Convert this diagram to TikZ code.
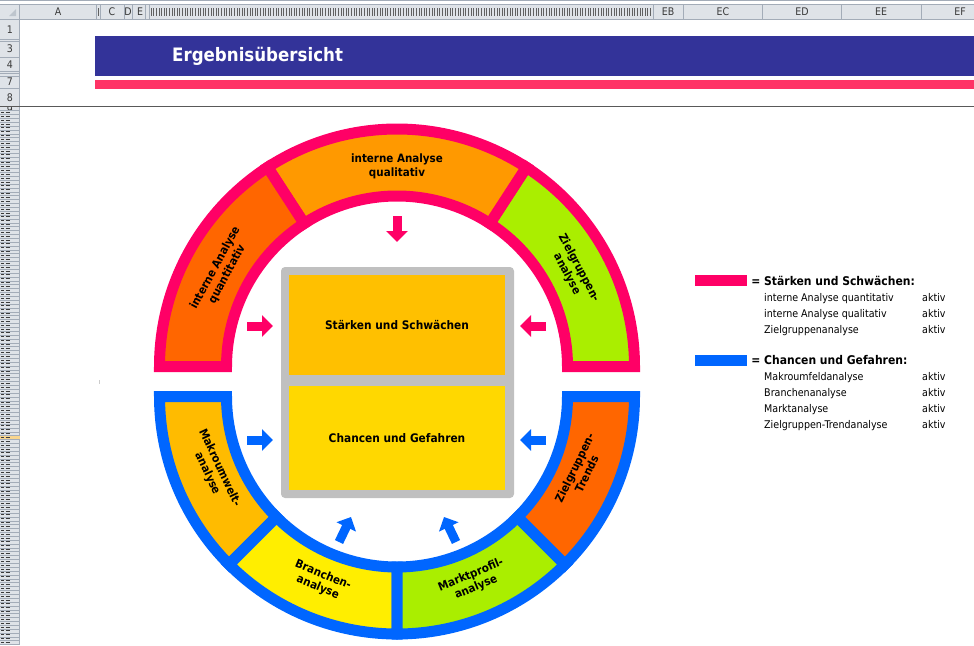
\documentclass[tikz,border=0pt]{standalone}
\usepackage{fontspec}
\setmainfont{DejaVu Sans}[FakeStretch=0.9]
\usetikzlibrary{positioning,arrows.meta}

\definecolor{hdrfill}{HTML}{DFE3E8}
\definecolor{hdrline}{HTML}{A3ACB8}
\definecolor{hdrtext}{HTML}{3A3A3A}
\definecolor{titleblue}{HTML}{333399}
\definecolor{titlepink}{HTML}{FF3366}
\definecolor{sspink}{HTML}{FF0066}
\definecolor{cgblue}{HTML}{0066FF}
\definecolor{segDark}{HTML}{FF6600}
\definecolor{segOrange}{HTML}{FF9900}
\definecolor{segLime}{HTML}{AAEE00}
\definecolor{segAmber}{HTML}{FFBB00}
\definecolor{segLemon}{HTML}{FFEE00}
\definecolor{boxgray}{HTML}{C0C0C0}
\definecolor{swyellow}{HTML}{FFC000}
\definecolor{cgyellow}{HTML}{FFD800}
\definecolor{selrow}{HTML}{F8D58E}

\newcommand{\ringpart}[4]{%
        \draw[part, draw=#4, fill=#3] (#1:237.5) arc[start angle=#1, end angle=#2, radius=237.5]
                -- (#2:170.5) arc[start angle=#2, end angle=#1, radius=170.5] -- cycle;}

\tikzset{
        hdrtxt/.style={font=\fontsize{10.5}{12}\selectfont, text=hdrtext, inner sep=0pt},
        seglabel/.style={font=\bfseries\fontsize{11.5}{13.5}\selectfont, align=center, inner sep=0pt},
        part/.style={line width=11pt, line join=miter},
        pinkarr/.style={draw=sspink, line width=9pt, -{Triangle[length=11pt,width=21pt]}},
        bluearr/.style={pinkarr, draw=cgblue},
        boxlabel/.style={font=\bfseries\fontsize{11.8}{14}\selectfont, inner sep=0pt, minimum width=216pt},
        legsw/.style={minimum width=52pt, minimum height=11pt, inner sep=0pt},
        leghead/.style={font=\bfseries\fontsize{12}{14}\selectfont, inner sep=0pt},
        legitem/.style={font=\fontsize{10.6}{12}\selectfont, inner sep=0pt, anchor=base west}
}

\begin{document}
\begin{tikzpicture}[x=1pt, y=-1pt]
        \useasboundingbox (0,0) rectangle (974,645);
        \fill[white] (0,0) rectangle (974,645);

        % sheet headers
        \fill[hdrfill] (0,4) rectangle (974,19.5);
        \fill[hdrfill] (0,19.5) rectangle (19.5,645);
        \draw[hdrline] (0,0.5) -- (974,0.5) (0,4) -- (974,4) (0,19.5) -- (974,19.5) (19.5,4) -- (19.5,645);
        \fill[hdrline!70] (16,9) -- (16,16) -- (9,16) -- cycle;
        \foreach \x in {96,100,124,132,145,149,653,683,762,841,921}
                \draw[hdrline] (\x,4) -- (\x,19.5);
        \foreach \x in {98,151,153.6,...,651}
                \draw[hdrtext!80, line width=0.6pt] (\x,8) -- (\x,16);
        \foreach \t/\x in {A/58,C/112,D/128,E/140,EB/668,EC/723,ED/802,EE/881,EF/960}
                \node (col\t) [hdrtxt] at (\x,12) {\t};
        \foreach \y in {39.5,41,57.5,71.5,73.5,76,88.5}
                \draw[hdrline] (0,\y) -- (19.5,\y);
        \foreach \t/\y in {1/30,3/49,4/65,7/82,8/98}
                \node (row\t) [hdrtxt] at (10,\y) {\t};
        \begin{scope}
                \clip (0,106) rectangle (19.5,110.5);
                \node (row9) [hdrtxt] at (10,110) {9};
        \end{scope}
        \fill[selrow] (0,435.6) rectangle (19.5,439.5);
        \foreach \i in {0,...,138} {
                \pgfmathsetmacro\yy{110.5+3.87*\i}
                \draw[hdrline, line width=0.4pt] (0,\yy) -- (19.5,\yy);
                \draw[hdrtext, line width=1pt] (1,\yy+1.9) -- (4,\yy+1.9) (5.5,\yy+1.9) -- (10,\yy+1.9);
        }
        \draw[black!65, line width=1pt] (0,106) -- (974,106);
        \draw[black!20] (99,380) -- (99,384);

        % title
        \fill[titleblue] (95,36) rectangle (974,76);
        \fill[titlepink] (95,80) rectangle (974,89);
        \node (title) [anchor=west, text=white, font=\bfseries\fontsize{18.5}{22}\selectfont, inner sep=0pt] at (172,56) {Ergebnisübersicht};

        % rings
        \begin{scope}[shift={(397,366.5)}, yscale=-1]
                \ringpart{0}{57}{segLime}{sspink}
                \ringpart{57}{123}{segOrange}{sspink}
                \ringpart{123}{180}{segDark}{sspink}
                \node (quant) [seglabel, rotate=61.5] at (151.5:200) {interne Analyse\\quantitativ};
                \node (qual) [seglabel] at (90:200) {interne Analyse\\qualitativ};
                \node (zgana) [seglabel, rotate=-62] at (28.5:200) {Zielgruppen-\\analyse};
        \end{scope}
        \begin{scope}[shift={(397,396.5)}, yscale=-1]
                \ringpart{180}{225}{segAmber}{cgblue}
                \ringpart{225}{270}{segLemon}{cgblue}
                \ringpart{270}{315}{segLime}{cgblue}
                \ringpart{315}{360}{segDark}{cgblue}
                \node (makro) [seglabel, rotate=-65] at (202:198) {Makroumwelt-\\analyse};
                \node (branche) [seglabel, rotate=-22.5] at (247.5:200) {Branchen-\\analyse};
                \node (markt) [seglabel, rotate=22.5] at (292.5:200) {Marktprofil-\\analyse};
                \node (zgtrend) [seglabel, rotate=64] at (338:198) {Zielgruppen-\\Trends};
        \end{scope}

        % centre box
        \node (frame) [fill=boxgray, rounded corners=4pt, minimum width=233pt, minimum height=231pt] at (397.5,382.5) {};
        \node (sw) [boxlabel, fill=swyellow, minimum height=100pt] at (397,325) {Stärken und Schwächen};
        \node (cg) [boxlabel, fill=cgyellow, minimum height=104pt, below=11pt of sw] {Chancen und Gefahren};

        % arrows
        \coordinate (qualOut) at (397,216);   \coordinate (qualIn) at (397,242);
        \coordinate (quantOut) at (247,326);  \coordinate (quantIn) at (273,326);
        \coordinate (zganaOut) at (546,326);  \coordinate (zganaIn) at (520,326);
        \coordinate (makroOut) at (247,440);  \coordinate (makroIn) at (273,440);
        \coordinate (zgtrendOut) at (546,440); \coordinate (zgtrendIn) at (520,440);
        \coordinate (brancheOut) at (339,542); \coordinate (brancheIn) at (351,517);
        \coordinate (marktOut) at (456,542);  \coordinate (marktIn) at (444,517);
        \draw[pinkarr] (qualOut) -- (qualIn);
        \draw[pinkarr] (quantOut) -- (quantIn);
        \draw[pinkarr] (zganaOut) -- (zganaIn);
        \draw[bluearr] (makroOut) -- (makroIn);
        \draw[bluearr] (zgtrendOut) -- (zgtrendIn);
        \draw[bluearr] (brancheOut) -- (brancheIn);
        \draw[bluearr] (marktOut) -- (marktIn);

        % legend
        \node (swS) [legsw, fill=sspink] at (721,280.5) {};
        \node (headS) [leghead, right=4pt of swS] {= Stärken und Schwächen:};
        \foreach \t [count=\i] in {interne Analyse quantitativ, interne Analyse qualitativ, Zielgruppenanalyse} {
                \node (sItem\i) [legitem] at (764,285+16*\i) {\t};
                \node (sAkt\i) [legitem] at (922,285+16*\i) {aktiv};
        }
        \node (swC) [legsw, fill=cgblue] at (721,360.5) {};
        \node (headC) [leghead, right=4pt of swC] {= Chancen und Gefahren:};
        \foreach \t [count=\i] in {Makroumfeldanalyse, Branchenanalyse, Marktanalyse, Zielgruppen-Trendanalyse} {
                \node (cItem\i) [legitem] at (764,364+16*\i) {\t};
                \node (cAkt\i) [legitem] at (922,364+16*\i) {aktiv};
        }
\end{tikzpicture}
\end{document}
